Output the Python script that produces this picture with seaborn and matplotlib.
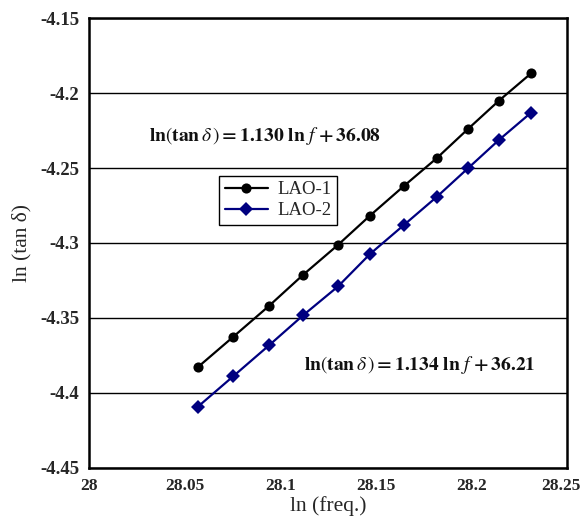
import matplotlib
matplotlib.use("Agg")
import matplotlib.pyplot as plt
import matplotlib.transforms as mtransforms
import seaborn as sns
import pandas as pd

# ---- data ----
ln_freq = [28.0570, 28.0753, 28.0941, 28.1119, 28.1302, 28.1470,
           28.1647, 28.1820, 28.1982, 28.2144, 28.2312]
lao1 = [-4.3827, -4.3627, -4.3420, -4.3213, -4.3013, -4.2817,
        -4.2620, -4.2433, -4.2240, -4.2051, -4.1869]
lao2 = [-4.4091, -4.3890, -4.3683, -4.3483, -4.3290, -4.3073,
        -4.2880, -4.2691, -4.2502, -4.2313, -4.2131]
series_names = ["LAO-1", "LAO-2"]
x_ticks = [28, 28.05, 28.1, 28.15, 28.2, 28.25]
x_tick_labels = ["28", "28.05", "28.1", "28.15", "28.2", "28.25"]
y_ticks = [-4.45, -4.4, -4.35, -4.3, -4.25, -4.2, -4.15]
y_tick_labels = ["-4.45", "-4.4", "-4.35", "-4.3", "-4.25", "-4.2", "-4.15"]
eq1 = r"$\mathbf{ln}\left(\mathbf{tan}\,\delta\,\right)\mathbf{=1.130\ ln}\ f\ \mathbf{+\,36.08}$"
eq2 = r"$\mathbf{ln}\left(\mathbf{tan}\,\delta\,\right)\mathbf{=1.134\ ln}\ f\ \mathbf{+\,36.21}$"

df = pd.DataFrame({
    "x": ln_freq * 2,
    "y": lao1 + lao2,
    "series": [series_names[0]] * len(lao1) + [series_names[1]] * len(lao2),
})

sns.set_style("white")
plt.rcParams["font.family"] = ["Liberation Serif", "DejaVu Serif"]
plt.rcParams["mathtext.fontset"] = "stix"

fig = plt.figure(figsize=(5.84, 5.27), dpi=100)
ax = fig.add_axes([0.1524, 0.112, 0.8185, 0.8538])

palette = {"LAO-1": "#000000", "LAO-2": "#000080"}
markers = {"LAO-1": "o", "LAO-2": "D"}
sns.lineplot(data=df, x="x", y="y", hue="series", style="series",
             palette=palette, markers=markers, dashes=False,
             linewidth=1.6, markersize=7.3, markeredgewidth=0,
             ax=ax, zorder=3)

ax.set_xlim(28, 28.25)
ax.set_ylim(-4.45, -4.15)
ax.set_xticks(x_ticks)
ax.set_xticklabels(x_tick_labels, fontweight="bold", fontsize=12.5)
ax.set_yticks(y_ticks)
ax.set_yticklabels(y_tick_labels, fontweight="bold", fontsize=13.5)
ax.tick_params(axis="both", direction="in", length=4, width=1, color="#000000")
ax.tick_params(axis="y", pad=7)
ax.tick_params(axis="x", pad=7)
ax.yaxis.grid(True, color="#000000", linewidth=1.0)
ax.xaxis.grid(False)
for s in ax.spines.values():
    s.set_color("#000000")
    s.set_linewidth(1.8)
    s.set_visible(True)

# nudge the last x tick label so it stays inside the figure
last = ax.get_xticklabels()[-1]
last.set_transform(last.get_transform() +
                   mtransforms.ScaledTranslation(-6 / 100, 0, fig.dpi_scale_trans))

ax.set_xlabel("ln (freq.)", fontsize=15.5, labelpad=2)
ax.set_ylabel("ln (tan δ)", fontsize=15.5, labelpad=6)

ax.text(0.368, 0.737, eq1, transform=ax.transAxes, ha="center", va="center",
        fontsize=14, color="#111111")
ax.text(0.692, 0.229, eq2, transform=ax.transAxes, ha="center", va="center",
        fontsize=14, color="#111111")

leg = ax.legend(loc="upper left", bbox_to_anchor=(0.272, 0.65), fontsize=13.5,
                frameon=True, fancybox=False, edgecolor="#000000",
                framealpha=1, handlelength=2.3, borderpad=0.3,
                labelspacing=0.2, handletextpad=0.5, borderaxespad=0)
leg.get_frame().set_linewidth(1.0)
leg.set_title(None)

fig.savefig("out.png", dpi=100)
